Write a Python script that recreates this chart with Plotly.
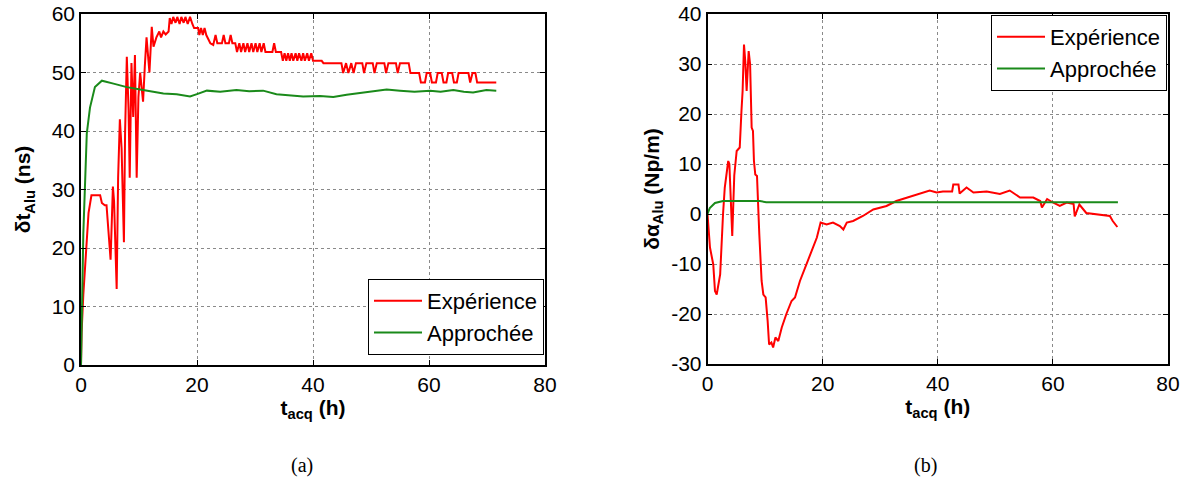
import plotly.graph_objects as go

# ---------- Panel (a): delta t Alu (ns) ----------
t_exp_a = [0, 0.1, 0.4, 0.7, 1.0, 1.3, 1.8, 2.5, 3.3, 3.6, 4.1, 4.4, 4.7, 5.1, 5.5, 5.7, 6.15, 6.4, 6.7, 7.0,
           7.4, 7.6, 7.9, 8.2, 8.4, 8.7, 9.0, 9.3, 9.6, 9.9, 10.2, 10.7, 11.0, 11.3, 11.8, 12.2, 12.5, 13.0,
           13.5, 13.8, 14.2, 14.6, 15.1, 15.3, 15.6, 15.9, 16.3, 16.6, 17.0, 17.3, 17.7, 18.0, 18.4, 18.8, 19.2,
           19.5, 20.2, 20.4, 20.7, 21.0, 21.3, 21.6, 22.3, 22.8, 23.2, 23.5, 24.3, 24.6, 24.9, 25.5, 25.8, 26.1,
           26.6, 26.9, 27.3, 27.6, 28.0, 28.3, 28.7, 29.0, 29.4, 29.7, 30.1, 30.4, 30.8, 31.1, 31.5, 31.8, 33.0,
           33.3, 33.6, 34.5, 34.8, 35.1, 35.4, 35.7, 36.0, 36.3, 36.6, 37.0, 37.3, 37.6, 38.0, 38.3, 38.6, 39.0,
           39.3, 39.7, 40.0, 41.5, 41.8, 44.9, 45.2, 45.7, 46.1, 46.6, 47.0, 47.4, 48.5, 48.8, 49.2, 50.3, 50.6,
           51.0, 52.3, 52.6, 53.0, 54.3, 54.6, 55.0, 56.5, 56.8, 58.3, 58.6, 59.3, 59.6, 60.2, 60.5, 61.2, 61.5,
           62.2, 62.5, 63.0, 63.3, 64.0, 64.3, 64.8, 65.1, 66.8, 67.1, 67.5, 68.0, 68.3, 71.6]
v_exp_a = [0, 5.5, 12, 16.8, 22.5, 26, 29, 29, 29, 27.7, 27.3, 27.3, 23.6, 18, 30.5, 28, 13, 32, 42, 37,
           21, 39.6, 52.7, 43.6, 32, 51.6, 42.4, 53, 32, 45.8, 50, 45, 51, 56, 50, 57.8, 54.4, 56,
           57, 56, 57, 56.5, 57, 59.3, 58.3, 59.5, 58.5, 59.5, 58.3, 59.5, 58.5, 59.5, 58.3, 59.5, 58.3,
           57.6, 57.6, 56.4, 57.6, 56.4, 57.6, 56.4, 55, 54.7, 56.4, 55, 55, 56.4, 55, 55, 56.4, 55,
           55, 53.5, 55, 53.5, 55, 53.5, 55, 53.5, 55, 53.5, 55, 53.5, 55, 53.5, 55, 53.5, 53.5,
           55, 53.5, 53.5, 52, 53.3, 52, 53.3, 52, 53.3, 52, 53.3, 52, 53.3, 52, 53.3, 52, 53.3,
           52, 53.3, 52, 52, 51.6, 51.6, 49.9, 51.6, 49.9, 51.6, 49.9, 51.6, 51.6, 49.9, 51.6, 51.6, 49.9,
           51.6, 51.6, 49.9, 51.6, 51.6, 49.9, 51.6, 51.6, 49.9, 49.9, 48.3, 48.3, 49.9, 49.9, 48.3, 48.3, 49.9,
           49.9, 48.3, 48.3, 49.9, 49.9, 48.3, 48.3, 49.9, 49.9, 48.3, 49.9, 49.9, 48.3, 48.3]

t_app_a = [0, 0.1, 0.4, 1.0, 1.55, 2.4, 3.6, 5.6, 7.9, 10.2, 12.0, 14.2, 16.5, 18.8, 20.0, 21.7, 24.0,
           26.8, 29.0, 31.4, 33.7, 36.0, 38.3, 41.2, 43.5, 45.8, 48.0, 50.5, 52.7, 55.0, 57.5, 60.2, 62.0,
           64.2, 66.0, 67.6, 69.9, 71.6]
v_app_a = [0, 5, 22.5, 39.6, 44, 47.5, 48.6, 48.1, 47.5, 47.1, 46.8, 46.4, 46.3, 45.9, 46.3, 46.9, 46.7,
           47.0, 46.8, 46.9, 46.3, 46.1, 45.9, 46.0, 45.8, 46.2, 46.5, 46.8, 47.1, 46.9, 46.7, 46.9, 46.7,
           47.0, 46.7, 46.6, 47.0, 46.9]

# ---------- Panel (b): delta alpha Alu (Np/m) ----------
t_exp_b = [0, 0.43, 1.0, 1.3, 1.6, 2.2, 2.7, 3.0, 3.6, 3.8, 4.3, 4.65, 5.07, 5.6, 5.9, 6.1, 6.34, 6.56,
           6.8, 6.9, 7.15, 7.4, 7.67, 7.9, 8.07, 8.3, 8.6, 9.0, 9.1, 9.4, 9.7, 10.1, 10.45, 10.7, 11.1, 11.4,
           11.8, 12.3, 12.9, 13.45, 13.7, 14.6, 15.2, 16.06, 17.2, 18.1, 19.0, 19.65, 20.7, 21.8, 23.0, 23.6,
           24.2, 25.3, 27.0, 28.8, 31.1, 32.8, 34.6, 36.9, 38.6, 39.8, 40.9, 42.5, 42.7, 43.6, 43.8, 45.0,
           46.2, 48.5, 50.8, 52.5, 54.3, 56.6, 57.8, 58.1, 59.0, 60.0, 61.2, 62.4, 63.6, 63.8, 64.6, 65.8,
           68.1, 69.9, 70.4, 71.2]
v_exp_b = [0, -6.7, -10.1, -15.4, -16.1, -12.1, 0, 5.3, 10.6, 10, -4.4, 7.7, 12.6, 13.3, 20.6, 24.6, 33.9, 30.6,
           24.6, 26.6, 32.6, 30, 17.3, 16.6, 10.6, 7.9, 7.6, -4.1, -6.1, -13.4, -16.1, -16.7, -21.4, -26.1, -25.7, -26.7,
           -24.7, -25.4, -22.7, -20.7, -20, -17.4, -16.7, -13.4, -10.1, -7.4, -4.7, -1.7, -2.1, -1.7, -2.4, -3.1,
           -1.7, -1.4, -0.4, 0.9, 1.6, 2.6, 3.3, 4.1, 4.7, 4.3, 4.5, 4.5, 5.9, 5.9, 4.1, 5.3,
           4.3, 4.5, 4.0, 4.7, 3.3, 3.3, 2.6, 1.3, 3.0, 2.3, 1.6, 2.3, 2.0, -0.5, 1.9, 0.2,
           -0.1, -0.4, -1.4, -2.6]

t_app_b = [0, 0.4, 1.3, 2.7, 9.1, 9.7, 10.2, 71.3]
v_app_b = [0, 1.2, 2.2, 2.6, 2.6, 2.4, 2.35, 2.35]

x_ticks = [0, 20, 40, 60, 80]
y_ticks_a = [0, 10, 20, 30, 40, 50, 60]
y_ticks_b = [-30, -20, -10, 0, 10, 20, 30, 40]

RED = "#ff0000"
GREEN = "#1a8a1a"
FONT = "Liberation Sans, Arial, sans-serif"
W, H = 1189, 481

fig = go.Figure()
fig.add_trace(go.Scatter(x=t_exp_a, y=v_exp_a, mode="lines", name="Expérience",
                         line=dict(color=RED, width=2), xaxis="x", yaxis="y", legend="legend"))
fig.add_trace(go.Scatter(x=t_app_a, y=v_app_a, mode="lines", name="Approchée",
                         line=dict(color=GREEN, width=2), xaxis="x", yaxis="y", legend="legend"))
fig.add_trace(go.Scatter(x=t_exp_b, y=v_exp_b, mode="lines", name="Expérience",
                         line=dict(color=RED, width=2), xaxis="x2", yaxis="y2", legend="legend2"))
fig.add_trace(go.Scatter(x=t_app_b, y=v_app_b, mode="lines", name="Approchée",
                         line=dict(color=GREEN, width=2), xaxis="x2", yaxis="y2", legend="legend2"))

ax_common = dict(showline=True, linecolor="black", linewidth=1.5, mirror="ticks",
                 ticks="inside", ticklen=5, tickcolor="black", automargin=False,
                 showgrid=True, gridcolor="#8a8a8a", griddash="dot", gridwidth=1,
                 zeroline=False, tickfont=dict(family=FONT, size=21, color="black"))
title_font = dict(family=FONT, size=21, color="black")

fig.update_layout(
    width=W, height=H,
    margin=dict(l=0, r=0, t=0, b=0, autoexpand=False),
    paper_bgcolor="white", plot_bgcolor="white",
    font=dict(family=FONT, color="black"),
    xaxis=dict(domain=[81/W, 545/W], anchor="y", range=[0, 80], tickvals=x_ticks,
               ticktext=[str(v) for v in x_ticks],
               title=dict(text="<b>t<sub>acq</sub> (h)</b>", font=title_font, standoff=4), **ax_common),
    yaxis=dict(domain=[1-365/H, 1-14/H], anchor="x", range=[0, 60], tickvals=y_ticks_a,
               ticktext=[str(v) for v in y_ticks_a],
               title=dict(text="<b>δt<sub>Alu</sub> (ns)</b>", font=title_font, standoff=15), **ax_common),
    xaxis2=dict(domain=[707.5/W, 1168/W], anchor="y2", range=[0, 80], tickvals=x_ticks,
                ticktext=[str(v) for v in x_ticks],
                title=dict(text="<b>t<sub>acq</sub> (h)</b>", font=title_font, standoff=4), **ax_common),
    yaxis2=dict(domain=[1-364/H, 1-14/H], anchor="x2", range=[-30, 40], tickvals=y_ticks_b,
                ticktext=[str(v) for v in y_ticks_b],
                title=dict(text="<b>δα<sub>Alu</sub> (Np/m)</b>", font=title_font, standoff=6), **ax_common),
    legend=dict(x=544/W, y=1-355/H, xanchor="right", yanchor="bottom", itemwidth=48,
                bgcolor="white", bordercolor="black", borderwidth=1,
                font=dict(family=FONT, size=22, color="black"), tracegroupgap=0),
    legend2=dict(x=1167/W, y=1-15/H, xanchor="right", yanchor="top", itemwidth=48,
                 bgcolor="white", bordercolor="black", borderwidth=1,
                 font=dict(family=FONT, size=22, color="black"), tracegroupgap=0),
    annotations=[
        dict(text="(a)", x=302/W, y=1-465/H, xref="paper", yref="paper", showarrow=False,
             xanchor="center", yanchor="middle",
             font=dict(family="Liberation Serif, Times New Roman, serif", size=20, color="black")),
        dict(text="(b)", x=925/W, y=1-465/H, xref="paper", yref="paper", showarrow=False,
             xanchor="center", yanchor="middle",
             font=dict(family="Liberation Serif, Times New Roman, serif", size=20, color="black")),
    ],
)

fig.write_html("out.html", config={"displayModeBar": False},
               post_script="document.body.style.margin='0px';document.body.style.padding='0px';")
